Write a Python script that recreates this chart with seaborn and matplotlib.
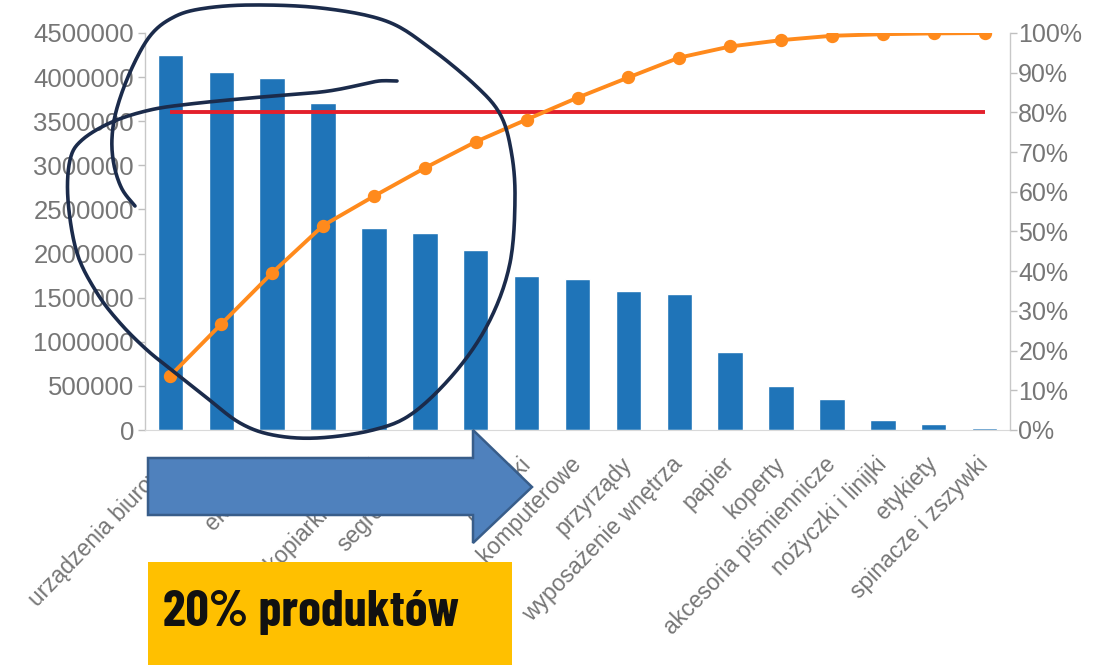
import numpy as np
import pandas as pd
import matplotlib
matplotlib.use("Agg")
import matplotlib.pyplot as plt
import seaborn as sns
from matplotlib.patches import Polygon, Rectangle
from matplotlib.lines import Line2D
import matplotlib.transforms as mtransforms

# ---------------- data ----------------
categories = ["urządzenia biurowe", "meble", "ekspresy", "tablice",
              "kserokopiarki i faksy", "segregatory", "tonery", "drukarki",
              "akcesoria komputerowe", "przyrządy", "wyposażenie wnętrza",
              "papier", "koperty", "akcesoria piśmiennicze",
              "nożyczki i linijki", "etykiety", "spinacze i zszywki"]
sales = [4250000, 4060000, 3990000, 3710000, 2290000, 2230000, 2040000,
         1750000, 1710000, 1580000, 1540000, 880000, 500000, 350000,
         110000, 70000, 25000]
cumulative_pct = [13.7, 26.7, 39.6, 51.5, 58.9, 66.0, 72.6, 78.2, 83.7,
                  88.8, 93.8, 96.6, 98.2, 99.3, 99.7, 99.9, 100.0]
threshold_pct = 80
left_ticks = [0, 500000, 1000000, 1500000, 2000000, 2500000, 3000000,
              3500000, 4000000, 4500000]
right_ticks = [0, 10, 20, 30, 40, 50, 60, 70, 80, 90, 100]
box_text = "20% produktów"

W, H = 1094, 665

sns.set_style("white")
plt.rcParams["font.family"] = ["Liberation Sans", "DejaVu Sans"]

fig = plt.figure(figsize=(W / 100, H / 100), dpi=100)
ax = fig.add_axes([145 / W, 1 - 430 / H, (1010 - 145) / W, (430 - 33) / H])

df = pd.DataFrame({"kategoria": categories, "sprzedaz": sales,
                   "skumulowane": cumulative_pct})

sns.barplot(data=df, x="kategoria", y="sprzedaz", color="#1F74B8",
            saturation=1, width=0.5, ax=ax, zorder=2)
ax.set_xlim(-0.5, len(categories) - 0.5)
ax.set_ylim(0, 4500000)
ax.set_yticks(left_ticks)
ax.set_yticklabels([str(v) for v in left_ticks])
ax.set_xlabel("")
ax.set_ylabel("")

ax2 = ax.twinx()
ax2.hlines(threshold_pct, 0, len(categories) - 1, color="#E3202C", lw=2.8,
           zorder=2)
sns.pointplot(data=df, x="kategoria", y="skumulowane", color="#FF8A1C",
              markers="o", linestyles="-", errorbar=None, markersize=7.5,
              linewidth=2.8, ax=ax2, zorder=3)
ax2.set_ylim(0, 100)
ax2.set_yticks(right_ticks)
ax2.set_yticklabels([f"{v}%" for v in right_ticks])
ax2.set_ylabel("")
ax2.set_xlabel("")
ax.set_xlim(-0.5, len(categories) - 0.5)

lab_col = "#767676"
ax.set_xticks(range(len(categories)))
ax.set_xticklabels(categories, rotation=46, ha="right", va="center",
                   rotation_mode="anchor", fontsize=16.5, color=lab_col)
off = mtransforms.ScaledTranslation(4 / 100, 0, fig.dpi_scale_trans)
for t in ax.get_xticklabels():
    t.set_transform(t.get_transform() + off)
ax.tick_params(axis="x", length=0, pad=22)
ax.tick_params(axis="y", length=5, width=1, color="#BFBFBF", pad=3,
               labelsize=18.5, labelcolor=lab_col, left=True)
ax2.tick_params(axis="y", length=5, width=1, color="#BFBFBF", pad=1,
                labelsize=18, labelcolor=lab_col, right=True)

for a in (ax, ax2):
    a.spines["top"].set_visible(False)
    a.spines["left"].set_color("#C8C8C8")
    a.spines["right"].set_color("#C8C8C8")
    a.spines["bottom"].set_color("#D9D9D9")
    a.spines["left"].set_linewidth(1)
    a.spines["right"].set_linewidth(1)
ax.spines["right"].set_visible(False)
ax2.spines["left"].set_visible(False)
ax2.spines["bottom"].set_visible(False)
ax.grid(False)
ax2.grid(False)


# ---------------- overlay annotations (pixel coords, y down) ----------------
def P(x, y):
    return (x / W, 1 - y / H)


def smooth(pts, n=14):
    p = np.array(pts, float)
    p = np.vstack([p[0], p, p[-1]])
    out = []
    t = np.linspace(0, 1, n, endpoint=False)[:, None]
    for i in range(1, len(p) - 2):
        p0, p1, p2, p3 = p[i - 1], p[i], p[i + 1], p[i + 2]
        out.append(0.5 * ((2 * p1) + (-p0 + p2) * t
                          + (2 * p0 - 5 * p1 + 4 * p2 - p3) * t ** 2
                          + (-p0 + 3 * p1 - 3 * p2 + p3) * t ** 3))
    out.append(p[-2][None])
    return np.vstack(out)


ink = [(135, 206), (122, 189), (114, 165), (112, 138), (117, 108),
       (131, 70), (150, 36), (172, 18), (200, 9), (250, 5), (321, 8),
       (386, 21), (430, 48), (475, 85), (500, 114), (511, 150),
       (515, 197), (510, 263), (490, 320), (457, 370), (413, 413),
       (373, 430), (317, 438), (273, 435), (240, 423), (207, 398),
       (173, 371), (147, 350), (120, 323), (97, 293), (77, 253),
       (68, 200), (70, 160), (82, 140), (112, 122), (150, 110),
       (190, 104), (250, 98), (321, 92), (360, 85), (379, 81), (397, 81)]
c = smooth(ink)
fig.add_artist(Line2D(c[:, 0] / W, 1 - c[:, 1] / H, transform=fig.transFigure,
                      color="#1B2B4B", lw=2.6, solid_capstyle="round",
                      solid_joinstyle="round", zorder=20))

arrow = [(148, 458), (473, 458), (473, 430), (532, 487), (473, 543),
         (473, 515), (148, 515)]
fig.add_artist(Polygon([P(*q) for q in arrow], closed=True,
                       transform=fig.transFigure, facecolor="#4F81BD",
                       edgecolor="#385D8A", lw=1.8, zorder=21))

fig.add_artist(Rectangle(P(148, 665), (512 - 148) / W, (665 - 562) / H,
                         transform=fig.transFigure, facecolor="#FFC000",
                         edgecolor="none", zorder=21))

fig.text(163 / W, 1 - 626 / H, box_text, fontsize=37, fontweight="bold",
         color="#111111", family=["Barlow Condensed", "DejaVu Sans"],
         ha="left", va="baseline", zorder=22)

fig.savefig("out.png", dpi=100, facecolor="white")
